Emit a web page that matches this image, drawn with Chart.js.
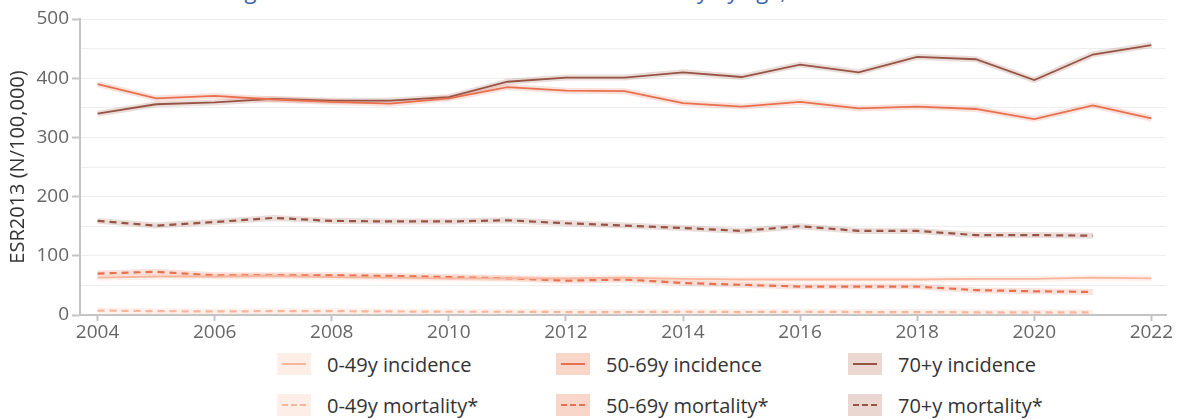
<!DOCTYPE html>
<html>
<head>
<meta charset="utf-8">
<script src="https://cdn.jsdelivr.net/npm/chart.js@4/dist/chart.umd.min.js"></script>
<style>
  body { margin: 0; background: #fff; font-family: "Open Sans", Lato, sans-serif; }
  #wrap { position: relative; width: 1182px; height: 419px; overflow: hidden; }
  #title { position: absolute; top: -25px; left: 206px; color: #3b64ad; font-size: 22px; white-space: nowrap; }
  #chart-box { position: absolute; left: 0; top: 0; width: 1182px; height: 345px; }
  #legend { position: absolute; left: 0; top: 353px; width: 1182px; height: 66px; }
  .item { position: absolute; display: flex; align-items: center; height: 22px;
          font-size: 20px; color: #333; }
  .swatch { width: 34px; height: 22px; display: flex; align-items: center; justify-content: center;
            margin-right: 16px; }
  .swatch div { width: 24px; height: 0; border-top-width: 2px; }
</style>
</head>
<body>
<div id="wrap">
  <div id="title">Lung cancer incidence rates and cancer mortality by age, 2004–2022</div>
  <div id="chart-box"><canvas id="trend-chart" width="1182" height="345"></canvas></div>
  <div id="legend"></div>
</div>
<script>
const years = [2004, 2005, 2006, 2007, 2008, 2009, 2010, 2011, 2012, 2013, 2014, 2015, 2016, 2017, 2018, 2019, 2020, 2021, 2022];
const xTicks = [2004, 2006, 2008, 2010, 2012, 2014, 2016, 2018, 2020, 2022];
const yTicks = [0, 100, 200, 300, 400, 500];

// incidence runs to 2022, mortality to 2021
const inc0to49 = [63, 65, 65, 66, 64, 63, 62, 62, 62, 63, 61, 60, 60, 60, 60, 61, 61, 63, 62];
const inc50to69 = [390, 366, 370, 364, 360, 357, 366, 385, 379, 378, 358, 352, 360, 349, 352, 348, 331, 354, 332];
const inc70plus = [340, 356, 359, 365, 362, 362, 368, 394, 401, 401, 410, 402, 423, 410, 436, 432, 397, 440, 456];
const mort0to49 = [7.5, 6.5, 6, 6.5, 6.5, 6, 5.5, 5.5, 5, 5, 5.5, 5, 5.5, 5, 5, 4.5, 4.5, 4.5];
const mort50to69 = [70, 73, 67, 67, 67, 66, 64, 62, 58, 60, 54, 51, 48, 48, 48, 42, 40, 39];
const mort70plus = [159, 151, 157, 164, 159, 158, 158, 160, 155, 151, 147, 142, 150, 142, 142, 135, 135, 134];

const colors = {
    young: '#f9b49c',
    middle: '#e8704e',
    old: '#975444'
};
const tints = {
    young: '#fdeee8',
    middle: '#f9d6ca',
    old: '#ead7d1'
};

const series = [
    { label: '0-49y incidence', data: inc0to49, key: 'young', dashed: false },
    { label: '50-69y incidence', data: inc50to69, key: 'middle', dashed: false },
    { label: '70+y incidence', data: inc70plus, key: 'old', dashed: false },
    { label: '0-49y mortality*', data: mort0to49, key: 'young', dashed: true },
    { label: '50-69y mortality*', data: mort50to69, key: 'middle', dashed: true },
    { label: '70+y mortality*', data: mort70plus, key: 'old', dashed: true }
];

function toPoints(values) {
    return values.map((v, i) => ({ x: years[i], y: v }));
}

function hexAlpha(hex, a) {
    const n = parseInt(hex.slice(1), 16);
    return `rgba(${(n >> 16) & 255}, ${(n >> 8) & 255}, ${n & 255}, ${a})`;
}

const datasets = [];
series.forEach(s => {
    // soft band under each line
    datasets.push({
        label: s.label + ' band',
        data: toPoints(s.data),
        borderColor: hexAlpha(colors[s.key], 0.2),
        borderWidth: 6,
        pointRadius: 0,
        fill: false,
        order: 2
    });
    datasets.push({
        label: s.label,
        data: toPoints(s.data),
        borderColor: colors[s.key],
        borderWidth: s.dashed ? 2.2 : 1.8,
        borderDash: s.dashed ? [7, 5] : [],
        pointRadius: 0,
        fill: false,
        order: 1
    });
});

const tickFont = { family: 'Open Sans', size: 19 };

const ctx = document.getElementById('trend-chart').getContext('2d');
const trendChart = new Chart(ctx, {
    type: 'line',
    data: { datasets: datasets },
    options: {
        responsive: false,
        animation: false,
        layout: { padding: { top: 19, right: 16, left: 0, bottom: 0 } },
        plugins: {
            legend: { display: false },
            tooltip: { enabled: false }
        },
        scales: {
            x: {
                type: 'linear',
                min: 2003.7,
                max: 2022.25,
                afterBuildTicks: function(scale) {
                    scale.ticks = xTicks.map(v => ({ value: v }));
                },
                afterFit: function(scale) { scale.height = 30; },
                ticks: {
                    color: '#666',
                    font: tickFont,
                    padding: 0,
                    maxRotation: 0,
                    callback: v => String(v)
                },
                grid: { drawOnChartArea: false, tickLength: 6, tickColor: '#c4c4c4', tickWidth: 2 },
                border: { color: '#c4c4c4', width: 2 }
            },
            y: {
                min: 0,
                max: 500,
                afterBuildTicks: function(scale) {
                    const t = [];
                    for (let v = 0; v <= 500; v += 50) t.push({ value: v });
                    scale.ticks = t;
                },
                afterFit: function(scale) { scale.width = 80; },
                ticks: {
                    color: '#666',
                    font: tickFont,
                    padding: 3,
                    callback: v => yTicks.includes(v) ? String(v) : ''
                },
                grid: {
                    color: '#eeeeee',
                    lineWidth: 1,
                    tickLength: 8,
                    tickWidth: 2,
                    tickColor: c => yTicks.includes(c.tick.value) ? '#c4c4c4' : 'rgba(0,0,0,0)'
                },
                border: { color: '#c4c4c4', width: 2 },
                title: {
                    display: true,
                    text: 'ESR2013 (N/100,000)',
                    color: '#333',
                    font: { family: 'Open Sans', size: 20 },
                    padding: { top: 6, bottom: 0 }
                }
            }
        }
    }
});

// legend in three columns, two rows
const legendCols = [277, 556, 848];
const legendRows = [0, 41];
const legend = document.getElementById('legend');
series.forEach((s, i) => {
    const item = document.createElement('div');
    item.className = 'item';
    item.style.left = legendCols[i % 3] + 'px';
    item.style.top = legendRows[Math.floor(i / 3)] + 'px';
    const sw = document.createElement('div');
    sw.className = 'swatch';
    sw.style.background = tints[s.key];
    const ln = document.createElement('div');
    ln.style.borderTopStyle = s.dashed ? 'dashed' : 'solid';
    ln.style.borderTopColor = colors[s.key];
    sw.appendChild(ln);
    const txt = document.createElement('span');
    txt.textContent = s.label;
    item.appendChild(sw);
    item.appendChild(txt);
    legend.appendChild(item);
});
</script>
</body>
</html>
